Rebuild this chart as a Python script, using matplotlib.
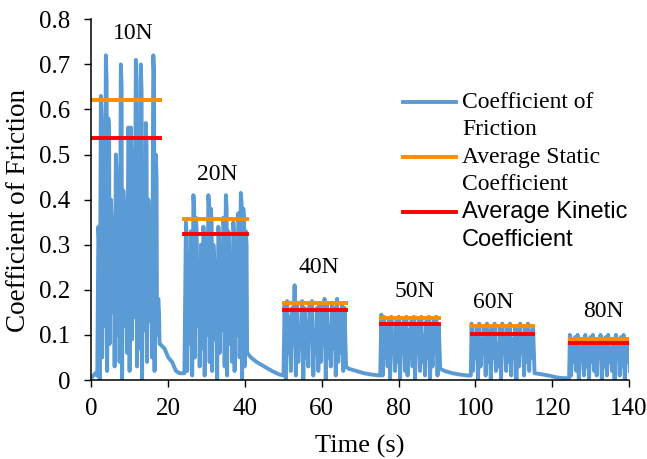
import numpy as np
import matplotlib
matplotlib.use("Agg")
import matplotlib.pyplot as plt
from matplotlib.lines import Line2D

plt.rcParams['font.family'] = ['Liberation Serif', 'DejaVu Serif']

# --- data ---
loads = ["10N", "20N", "40N", "50N", "60N", "80N"]
block_start = [1.8, 24.6, 50.3, 75.5, 99.0, 124.6]
block_end = [17.4, 40.2, 65.9, 90.45, 115.0, 139.9]

peaks10 = [0.34, 0.63, 0.30, 0.72, 0.58, 0.40, 0.28, 0.50, 0.35, 0.70, 0.42, 0.30, 0.56,
           0.56, 0.33, 0.71, 0.45, 0.70, 0.38, 0.57, 0.40, 0.28, 0.72, 0.50, 0.18]
shoulders10 = [0.30, 0.58, 0.25, 0.66, 0.55, 0.36, 0.24, 0.46, 0.30, 0.65, 0.38, 0.26, 0.52,
               0.50, 0.30, 0.66, 0.40, 0.64, 0.34, 0.52, 0.36, 0.25, 0.68, 0.45, 0.15]
troughs10 = [0.0, 0.05, 0.12, 0.02, 0.08, 0.15, 0.03, 0.10, 0.04, 0.0, 0.12, 0.06, 0.02,
             0.09, 0.14, 0.03, 0.07, 0.0, 0.11, 0.04, 0.13, 0.05, 0.02, 0.10, 0.08]
peaks20 = [0.35, 0.28, 0.33, 0.41, 0.36, 0.25, 0.30, 0.34, 0.22, 0.41, 0.38, 0.30, 0.26,
           0.34, 0.28, 0.36, 0.41, 0.33, 0.25, 0.35, 0.30, 0.37, 0.415, 0.38, 0.33]
shoulders20 = [0.32, 0.25, 0.30, 0.38, 0.33, 0.22, 0.27, 0.31, 0.20, 0.38, 0.35, 0.27, 0.23,
               0.31, 0.25, 0.33, 0.38, 0.30, 0.22, 0.32, 0.27, 0.34, 0.39, 0.35, 0.30]
troughs20 = [0.02, 0.08, 0.01, 0.05, 0.12, 0.03, 0.07, 0.01, 0.10, 0.04, 0.02, 0.09, 0.0,
             0.06, 0.11, 0.03, 0.01, 0.08, 0.04, 0.02, 0.10, 0.05, 0.0, 0.03, 0.06]
peaks40 = [0.17, 0.175, 0.14, 0.16, 0.21, 0.17, 0.12, 0.175, 0.16, 0.13, 0.17, 0.175, 0.11,
           0.16, 0.17, 0.14, 0.18, 0.165, 0.12, 0.17, 0.16, 0.18, 0.15, 0.17, 0.16]
troughs40 = [0.0, 0.06, 0.02, 0.08, 0.01, 0.04, 0.07, 0.0, 0.05, 0.03, 0.09, 0.01, 0.06,
             0.02, 0.04, 0.08, 0.0, 0.05, 0.03, 0.07, 0.01, 0.04, 0.06, 0.02, 0.05]
peaks50 = [0.145, 0.14, 0.12, 0.135, 0.14, 0.10, 0.13, 0.14, 0.12, 0.135, 0.14, 0.11,
           0.13, 0.14, 0.12, 0.135, 0.14, 0.10, 0.13, 0.14, 0.125, 0.135, 0.14, 0.12]
troughs50 = [0.01, 0.05, 0.03, 0.0, 0.07, 0.02, 0.04, 0.0, 0.06, 0.02, 0.01, 0.05,
             0.03, 0.0, 0.06, 0.02, 0.04, 0.01, 0.05, 0.0, 0.03, 0.06, 0.01, 0.04]
peaks60 = [0.125, 0.10, 0.12, 0.125, 0.09, 0.12, 0.125, 0.11, 0.12, 0.125, 0.08, 0.12, 0.125,
           0.10, 0.12, 0.125, 0.09, 0.115, 0.12, 0.125, 0.10, 0.12, 0.125, 0.11, 0.12]
troughs60 = [0.02, 0.05, 0.0, 0.03, 0.06, 0.01, 0.04, 0.0, 0.05, 0.02, 0.03, 0.0, 0.06,
             0.02, 0.04, 0.01, 0.05, 0.0, 0.03, 0.06, 0.01, 0.04, 0.02, 0.05, 0.03]
peaks80 = [0.10, 0.085, 0.095, 0.10, 0.07, 0.09, 0.10, 0.08, 0.095, 0.10, 0.075, 0.09,
           0.10, 0.085, 0.095, 0.10, 0.07, 0.09, 0.10, 0.08, 0.095, 0.10, 0.085, 0.09]
troughs80 = [0.01, 0.04, 0.02, 0.0, 0.05, 0.01, 0.03, 0.0, 0.04, 0.02, 0.01, 0.05,
             0.0, 0.03, 0.01, 0.04, 0.02, 0.0, 0.05, 0.01, 0.03, 0.0, 0.04, 0.02]

# quiet stretches between the loads (time, value)
lead_t = [0.0, 0.5, 1.0, 1.5]
lead_v = [0.005, 0.01, 0.015, 0.01]
gap_t = [[17.8, 19.0, 20.0, 21.0, 22.0, 23.0, 24.2],
         [40.6, 41.5, 43.0, 45.0, 47.0, 49.0, 50.0],
         [66.3, 67.0, 69.0, 71.0, 73.0, 75.2],
         [90.8, 92.0, 94.0, 96.0, 98.0, 98.8],
         [115.4, 117.0, 119.0, 121.0, 123.0, 124.4],
         []]
gap_v = [[0.08, 0.07, 0.05, 0.04, 0.02, 0.015, 0.015],
         [0.06, 0.05, 0.04, 0.03, 0.02, 0.012, 0.01],
         [0.03, 0.025, 0.02, 0.015, 0.012, 0.01],
         [0.025, 0.02, 0.015, 0.012, 0.01, 0.01],
         [0.015, 0.013, 0.01, 0.006, 0.004, 0.004],
         []]

static_avg = [0.622, 0.358, 0.170, 0.138, 0.120, 0.091]
kinetic_avg = [0.537, 0.324, 0.156, 0.124, 0.102, 0.081]
avg_start = [0.2, 24.1, 50.2, 75.5, 99.0, 124.6]
avg_end = [17.8, 40.6, 66.3, 90.6, 115.1, 140.0]

label_x = [11.0, 32.8, 59.3, 84.3, 104.7, 133.2]
label_y = [0.768, 0.456, 0.25, 0.196, 0.171, 0.152]

all_peaks = [peaks10, peaks20, peaks40, peaks50, peaks60, peaks80]
all_shoulders = [shoulders10, shoulders20, None, None, None, None]
all_troughs = [troughs10, troughs20, troughs40, troughs50, troughs60, troughs80]

# stitch the trace together
t = list(lead_t)
mu = list(lead_v)
for k in range(len(loads)):
    n = len(all_peaks[k])
    tk = np.linspace(block_start[k], block_end[k], n)
    step = tk[1] - tk[0]
    for i in range(n):
        t.append(tk[i])
        mu.append(all_peaks[k][i])
        if all_shoulders[k] is not None:
            t.append(tk[i] + 0.3 * step)
            mu.append(all_shoulders[k][i])
        t.append(tk[i] + 0.5 * step)
        mu.append(all_troughs[k][i])
    t += gap_t[k]
    mu += gap_v[k]

fig = plt.figure(figsize=(6.47, 4.59), dpi=100)
ax = fig.add_axes([0.1414, 0.1721, 0.8308, 0.7859])

blue = '#5B9BD5'
orange = '#FF8C00'
red = '#FF0000'

ax.plot(t, mu, color=blue, lw=2.8, zorder=2)
for k in range(len(loads)):
    ax.plot([avg_start[k], avg_end[k]], [static_avg[k]] * 2, color=orange, lw=2.8, zorder=3)
    ax.plot([avg_start[k], avg_end[k]], [kinetic_avg[k]] * 2, color=red, lw=2.8, zorder=4)
    ax.text(label_x[k], label_y[k], loads[k], fontsize=17, ha='center', va='center')

ax.set_xlim(0, 140)
ax.set_ylim(0, 0.8)
ax.set_xticks(np.arange(0, 141, 20))
ax.set_yticks(np.arange(0, 0.81, 0.1))
ax.set_yticklabels(['0', '0.1', '0.2', '0.3', '0.4', '0.5', '0.6', '0.7', '0.8'])
ax.tick_params(labelsize=18, length=5, width=1, direction='out')
ax.tick_params(axis='x', pad=8)
ax.tick_params(axis='y', pad=10)
for s in ['top', 'right']:
    ax.spines[s].set_visible(False)
for s in ['left', 'bottom']:
    ax.spines[s].set_linewidth(1.1)
    ax.spines[s].set_zorder(5)

ax.set_xlabel('Time (s)', fontsize=19)
ax.set_ylabel('Coefficient of Friction', fontsize=19.5)
ax.xaxis.set_label_coords(0.5, -0.152)
ax.yaxis.set_label_coords(-0.112, 0.47)

# legend drawn by hand so the swatch sits on the first line of each entry
W, H = 647.0, 459.0
entries = [(blue, ['Coefficient of', 'Friction'], 'Liberation Serif', 102),
           (orange, ['Average Static', 'Coefficient'], 'Liberation Serif', 157),
           (red, ['Average Kinetic', 'Coefficient'], 'Liberation Sans', 212)]
for col, lines, fam, ypx in entries:
    fig.add_artist(Line2D([403 / W, 456 / W], [1 - ypx / H] * 2, color=col, lw=2.8,
                          transform=fig.transFigure))
    for j, s in enumerate(lines):
        fig.text(462 / W, 1 - (ypx + j * 27.7) / H, s, family=fam,
                 fontsize=17, va='center', ha='left')

fig.savefig('out.png', dpi=100)
